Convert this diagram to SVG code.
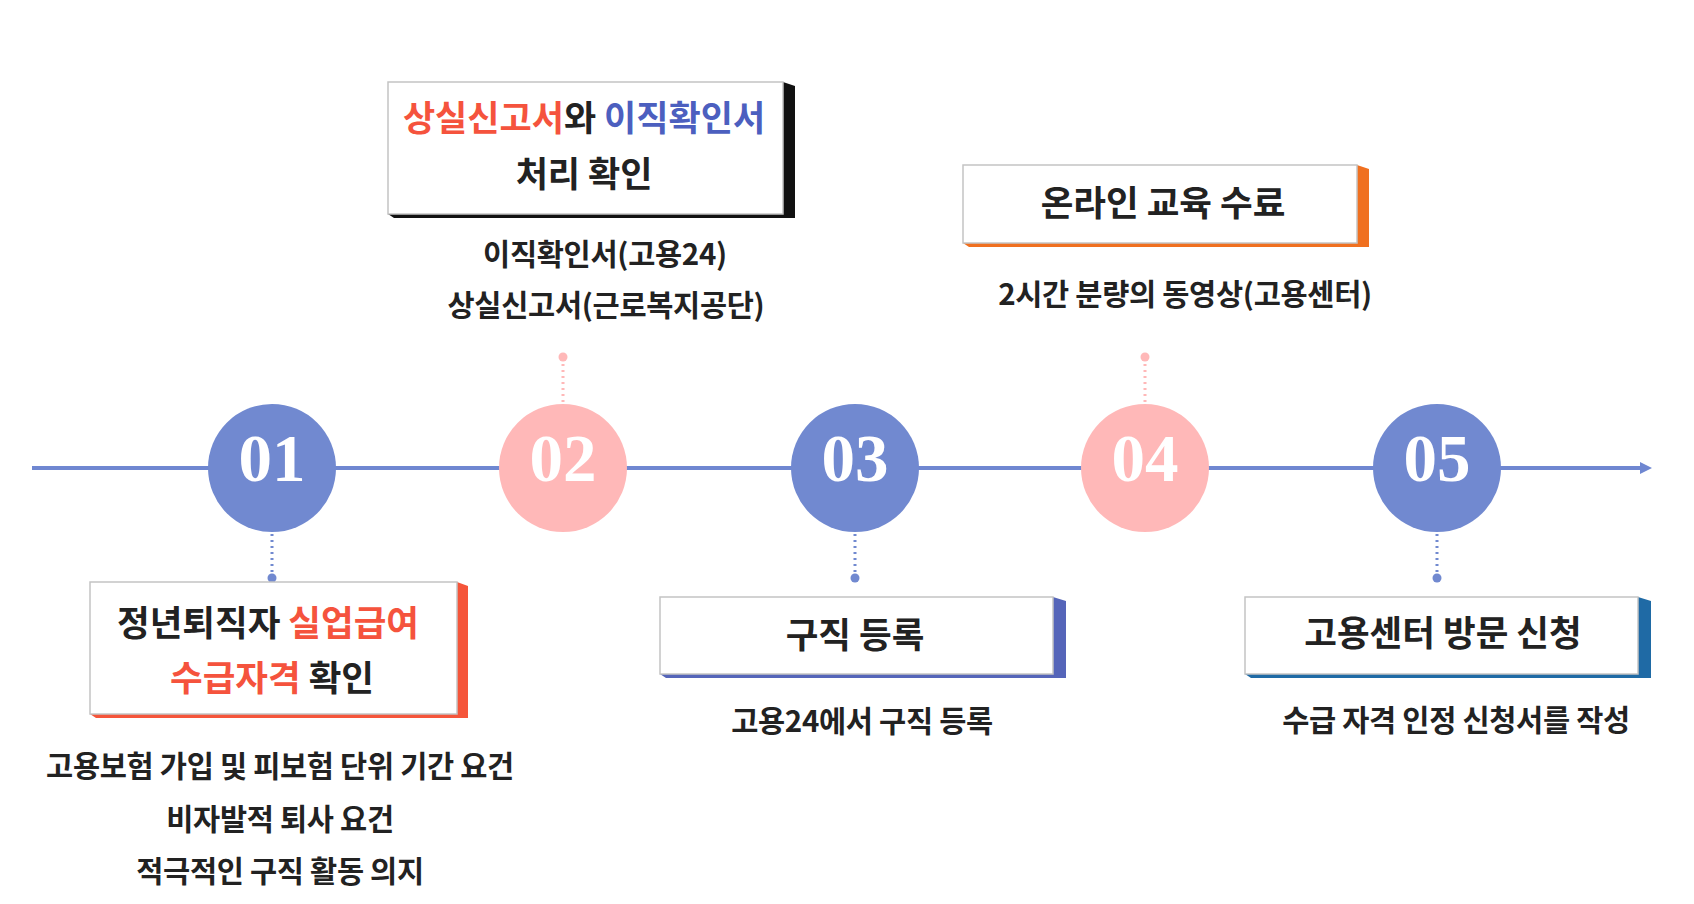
<svg xmlns="http://www.w3.org/2000/svg" width="1694" height="904" viewBox="0 0 1694 904">
<style>
.t{font-family:"Noto Sans CJK KR","Noto Sans",sans-serif;font-weight:bold;fill:#222;text-anchor:middle}
.ti{font-size:35.5px}
.sub{font-size:29.5px;letter-spacing:-0.3px}
.num{font-family:"Liberation Serif","Times New Roman",serif;font-weight:bold;font-size:67px;fill:#fff;text-anchor:middle}
.red{fill:#f5533d}
.blu{fill:#4c5fbf}
.card{fill:#fff;stroke:#c4c4c4;stroke-width:1.5}
.dotb{stroke:#7189d0;stroke-width:3;stroke-dasharray:2 4;fill:none}
.dotp{stroke:#ffb8b8;stroke-width:3;stroke-dasharray:2 4;fill:none}
</style>
<defs>
<marker id="arr" markerWidth="12" markerHeight="12" refX="2" refY="6" orient="auto" markerUnits="userSpaceOnUse">
<path d="M0,0 L12,6 L0,12 Z" fill="#6f87d1"/>
</marker>
</defs>
<rect width="1694" height="904" fill="#fff"/>
<g id="connectors">
<line x1="32" y1="468" x2="1642" y2="468" stroke="#6f87d1" stroke-width="4" marker-end="url(#arr)"/>
<line class="dotb" x1="272" y1="534" x2="272" y2="576"/>
<circle cx="272" cy="578" r="4.5" fill="#7189d0"/>
<line class="dotp" x1="563" y1="402" x2="563" y2="360"/>
<circle cx="563" cy="357" r="4.5" fill="#ffb8b8"/>
<line class="dotb" x1="855" y1="534" x2="855" y2="576"/>
<circle cx="855" cy="578" r="4.5" fill="#7189d0"/>
<line class="dotp" x1="1145" y1="402" x2="1145" y2="360"/>
<circle cx="1145" cy="357" r="4.5" fill="#ffb8b8"/>
<line class="dotb" x1="1437" y1="534" x2="1437" y2="576"/>
<circle cx="1437" cy="578" r="4.5" fill="#7189d0"/>
</g>
<g id="step01">
<circle cx="272" cy="468" r="64" fill="#7189d0"/>
<text class="num" x="272" y="481">01</text>
</g>
<g id="step02">
<circle cx="563" cy="468" r="64" fill="#ffb8b8"/>
<text class="num" x="563" y="481">02</text>
</g>
<g id="step03">
<circle cx="855" cy="468" r="64" fill="#7189d0"/>
<text class="num" x="855" y="481">03</text>
</g>
<g id="step04">
<circle cx="1145" cy="468" r="64" fill="#ffb8b8"/>
<text class="num" x="1145" y="481">04</text>
</g>
<g id="step05">
<circle cx="1437" cy="468" r="64" fill="#7189d0"/>
<text class="num" x="1437" y="481">05</text>
</g>
<g id="box01">
<polygon points="457,582 468,586 468,718 96,718 90,714" fill="#f5553a"/>
<rect class="card" x="90" y="582" width="367" height="132"/>
<text class="t ti" x="268" y="636">정년퇴직자 <tspan class="red">실업급여</tspan></text>
<text class="t ti" x="272" y="691"><tspan class="red">수급자격</tspan> 확인</text>
<text class="t sub" x="280" y="777">고용보험 가입 및 피보험 단위 기간 요건</text>
<text class="t sub" x="280" y="830">비자발적 퇴사 요건</text>
<text class="t sub" x="280" y="882">적극적인 구직 활동 의지</text>
</g>
<g id="box02">
<polygon points="783,82 795,86 795,218 394,218 388,214" fill="#111"/>
<rect class="card" x="388" y="82" width="395" height="132"/>
<text class="t" x="584" y="131" style="font-size:35px"><tspan class="red">상실신고서</tspan>와 <tspan class="blu">이직확인서</tspan></text>
<text class="t" x="584" y="187" style="font-size:35px">처리 확인</text>
<text class="t sub" x="605" y="265">이직확인서(고용24)</text>
<text class="t sub" x="606" y="316">상실신고서(근로복지공단)</text>
</g>
<g id="box03">
<polygon points="1053,597 1066,601 1066,678 666,678 660,674" fill="#5565b9"/>
<rect class="card" x="660" y="597" width="393" height="77"/>
<text class="t ti" x="855" y="648">구직 등록</text>
<text class="t sub" x="862" y="732">고용24에서 구직 등록</text>
</g>
<g id="box04">
<polygon points="1357,165 1369,169 1369,247 969,247 963,243" fill="#f07020"/>
<rect class="card" x="963" y="165" width="394" height="78"/>
<text class="t ti" x="1163" y="216">온라인 교육 수료</text>
<text class="t sub" x="1185" y="305">2시간 분량의 동영상(고용센터)</text>
</g>
<g id="box05">
<polygon points="1638,597 1651,601 1651,678 1251,678 1245,674" fill="#1f6aa5"/>
<rect class="card" x="1245" y="597" width="393" height="77"/>
<text class="t ti" x="1443" y="646">고용센터 방문 신청</text>
<text class="t sub" x="1456" y="731">수급 자격 인정 신청서를 작성</text>
</g>
</svg>
